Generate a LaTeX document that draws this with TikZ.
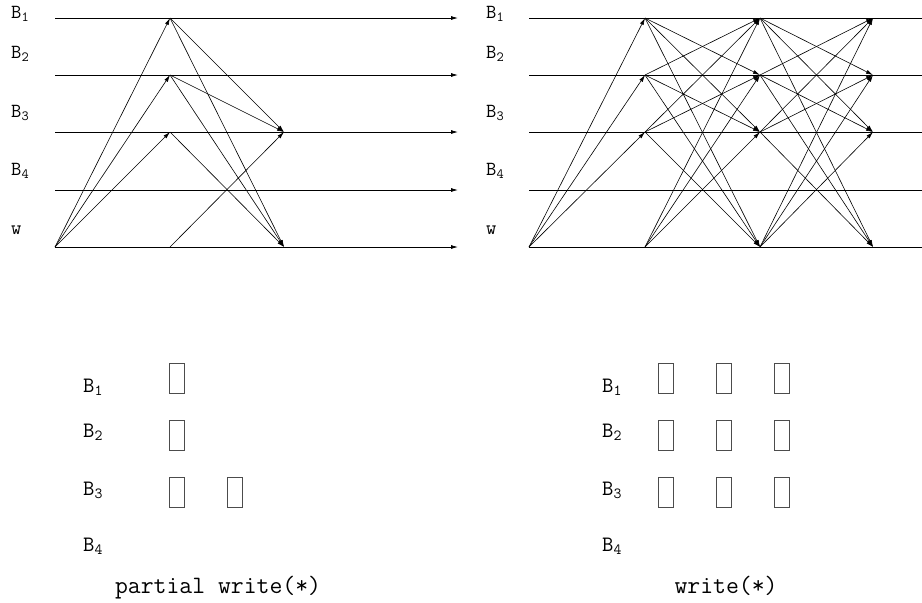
\documentclass[tikz,border=0pt]{standalone}
\usepackage{fontspec}
\usetikzlibrary{arrows.meta}
\begin{document}
\begin{tikzpicture}[x=1pt,y=-1pt,
  track/.style={line width=0.8pt},
  msg/.style={line width=0.6pt,-{Latex[length=7pt,width=4pt]}},
  lbl/.style={anchor=base west,inner sep=0pt,font=\ttfamily\fontsize{20}{20}\selectfont},
  blbl/.style={anchor=base west,inner sep=0pt,font=\ttfamily\fontsize{22}{22}\selectfont},
  captiontext/.style={anchor=base,inner sep=0pt,font=\ttfamily\fontsize{25}{25}\selectfont},
  slot/.style={draw=black!70,line width=0.8pt,minimum width=15pt,minimum height=30pt,inner sep=0pt}]
\useasboundingbox (0,0) rectangle (922,603);
% rows
\def\ya{18}\def\yb{75}\def\yc{132}\def\yd{190}\def\yw{247}
% ---------- left diagram ----------
\foreach \n/\y in {1/\ya,2/\yb,3/\yc,4/\yd,w/\yw}{
  \coordinate (Ls\n) at (55,\y);
  \coordinate (Le\n) at (458,\y);
  \coordinate (LA\n) at (170,\y);
  \coordinate (LB\n) at (284,\y);
  \draw[track,-{Latex[length=7pt,width=4pt]}] (Ls\n) -- (Le\n);
}
\node[lbl] (lB1) at (11,18.3) {B\textsubscript{1}};
\node[lbl] (lB2) at (11,58.5) {B\textsubscript{2}};
\node[lbl] (lB3) at (11,117) {B\textsubscript{3}};
\node[lbl] (lB4) at (11,175) {B\textsubscript{4}};
\node[lbl] (lw) at (11,234) {w};
\foreach \n in {1,2,3}{\draw[msg] (Lsw) -- (LA\n);}
\draw[msg] (LA1) -- (LB3);
\draw[msg] (LA1) -- (LBw);
\draw[msg] (LA2) -- (LB3);
\draw[msg] (LA2) -- (LBw);
\draw[msg] (LA3) -- (LBw);
\draw[msg] (LAw) -- (LB3);
% ---------- right diagram ----------
\foreach \n/\y in {1/\ya,2/\yb,3/\yc,4/\yd,w/\yw}{
  \coordinate (Rs\n) at (529,\y);
  \coordinate (Re\n) at (922,\y);
  \coordinate (RA\n) at (645,\y);
  \coordinate (RB\n) at (760,\y);
  \coordinate (RC\n) at (873,\y);
  \draw[track] (Rs\n) -- (Re\n);
}
\node[lbl] (rB1) at (486,18.3) {B\textsubscript{1}};
\node[lbl] (rB2) at (486,58.5) {B\textsubscript{2}};
\node[lbl] (rB3) at (486,117) {B\textsubscript{3}};
\node[lbl] (rB4) at (486,175) {B\textsubscript{4}};
\node[lbl] (rw) at (486,234) {w};
\foreach \n in {1,2,3}{\draw[msg] (Rsw) -- (RA\n);}
\foreach \s in {1,2,3,w}{
  \foreach \t in {1,2,3,w}{
    \ifx\s\t\else
      \draw[msg] (RA\s) -- (RB\t);
      \draw[msg] (RB\s) -- (RC\t);
    \fi
  }
}
% ---------- bottom left ----------
\node[blbl] (bl1) at (83,392.7) {B\textsubscript{1}};
\node[blbl] (bl2) at (83,437) {B\textsubscript{2}};
\node[blbl] (bl3) at (83,495) {B\textsubscript{3}};
\node[blbl] (bl4) at (83,551.7) {B\textsubscript{4}};
\node[slot] (pl11) at (176.5,378) {};
\node[slot] (pl21) at (176.5,435.5) {};
\node[slot] (pl31) at (176.5,492.5) {};
\node[slot] (pl32) at (234.5,492.5) {};
\node[captiontext] (capl) at (218,593.3) {partial write(*)};
% ---------- bottom right ----------
\node[blbl] (br1) at (602,392.7) {B\textsubscript{1}};
\node[blbl] (br2) at (602,437) {B\textsubscript{2}};
\node[blbl] (br3) at (602,495) {B\textsubscript{3}};
\node[blbl] (br4) at (602,551.7) {B\textsubscript{4}};
\foreach \r/\y in {1/378,2/435.5,3/492.5}{
  \foreach \c/\x in {1/666,2/723.5,3/781.5}{
    \node[slot] (pr\r\c) at (\x,\y) {};
  }
}
\node[captiontext] (capr) at (726,593.3) {write(*)};
\end{tikzpicture}
\end{document}
